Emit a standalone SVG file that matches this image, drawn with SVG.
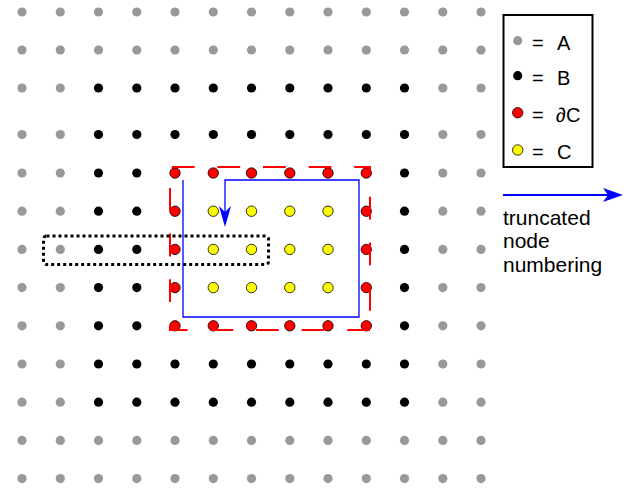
<svg xmlns="http://www.w3.org/2000/svg" width="638" height="490" viewBox="0 0 638 490">
  <style>
    .a { fill: #999999; }
    .b { fill: #000000; }
    .dc { fill: #ff0000; stroke: #000000; stroke-width: 0.8; }
    .c { fill: #ffff00; stroke: #000000; stroke-width: 0.8; }
    .lbl { font-family: "Liberation Sans", Arial, sans-serif; font-size: 20px; fill: #000000; }
    .key { font-size: 21px; }
  </style>
  <defs>
    <circle id="pa" r="4.6" class="a"/>
    <circle id="pb" r="4.6" class="b"/>
    <circle id="pdc" r="5.2" class="dc"/>
    <circle id="pc" r="5.2" class="c"/>
  </defs>

  <rect width="638" height="490" fill="#ffffff"/>

  <!-- lattice of nodes, one group per row -->
  <g id="nodes">
    <g id="row0" transform="translate(0,12)">
      <use id="n0-0" href="#pa" x="22"/><use id="n0-1" href="#pa" x="60.3"/><use id="n0-2" href="#pa" x="98.5"/><use id="n0-3" href="#pa" x="136.8"/><use id="n0-4" href="#pa" x="175"/><use id="n0-5" href="#pa" x="213.3"/><use id="n0-6" href="#pa" x="251.5"/><use id="n0-7" href="#pa" x="289.8"/><use id="n0-8" href="#pa" x="328"/><use id="n0-9" href="#pa" x="366.3"/><use id="n0-10" href="#pa" x="404.5"/><use id="n0-11" href="#pa" x="442.8"/><use id="n0-12" href="#pa" x="481"/>
    </g>
    <g id="row1" transform="translate(0,50)">
      <use id="n1-0" href="#pa" x="22"/><use id="n1-1" href="#pa" x="60.3"/><use id="n1-2" href="#pa" x="98.5"/><use id="n1-3" href="#pa" x="136.8"/><use id="n1-4" href="#pa" x="175"/><use id="n1-5" href="#pa" x="213.3"/><use id="n1-6" href="#pa" x="251.5"/><use id="n1-7" href="#pa" x="289.8"/><use id="n1-8" href="#pa" x="328"/><use id="n1-9" href="#pa" x="366.3"/><use id="n1-10" href="#pa" x="404.5"/><use id="n1-11" href="#pa" x="442.8"/><use id="n1-12" href="#pa" x="481"/>
    </g>
    <g id="row2" transform="translate(0,88)">
      <use id="n2-0" href="#pa" x="22"/><use id="n2-1" href="#pa" x="60.3"/><use id="n2-2" href="#pb" x="98.5"/><use id="n2-3" href="#pb" x="136.8"/><use id="n2-4" href="#pb" x="175"/><use id="n2-5" href="#pb" x="213.3"/><use id="n2-6" href="#pb" x="251.5"/><use id="n2-7" href="#pb" x="289.8"/><use id="n2-8" href="#pb" x="328"/><use id="n2-9" href="#pb" x="366.3"/><use id="n2-10" href="#pb" x="404.5"/><use id="n2-11" href="#pa" x="442.8"/><use id="n2-12" href="#pa" x="481"/>
    </g>
    <g id="row3" transform="translate(0,134.5)">
      <use id="n3-0" href="#pa" x="22"/><use id="n3-1" href="#pa" x="60.3"/><use id="n3-2" href="#pb" x="98.5"/><use id="n3-3" href="#pb" x="136.8"/><use id="n3-4" href="#pb" x="175"/><use id="n3-5" href="#pb" x="213.3"/><use id="n3-6" href="#pb" x="251.5"/><use id="n3-7" href="#pb" x="289.8"/><use id="n3-8" href="#pb" x="328"/><use id="n3-9" href="#pb" x="366.3"/><use id="n3-10" href="#pb" x="404.5"/><use id="n3-11" href="#pa" x="442.8"/><use id="n3-12" href="#pa" x="481"/>
    </g>
    <g id="row4" transform="translate(0,173)">
      <use id="n4-0" href="#pa" x="22"/><use id="n4-1" href="#pa" x="60.3"/><use id="n4-2" href="#pb" x="98.5"/><use id="n4-3" href="#pb" x="136.8"/><use id="n4-4" href="#pdc" x="175"/><use id="n4-5" href="#pdc" x="213.3"/><use id="n4-6" href="#pdc" x="251.5"/><use id="n4-7" href="#pdc" x="289.8"/><use id="n4-8" href="#pdc" x="328"/><use id="n4-9" href="#pdc" x="366.3"/><use id="n4-10" href="#pb" x="404.5"/><use id="n4-11" href="#pa" x="442.8"/><use id="n4-12" href="#pa" x="481"/>
    </g>
    <g id="row5" transform="translate(0,211.2)">
      <use id="n5-0" href="#pa" x="22"/><use id="n5-1" href="#pa" x="60.3"/><use id="n5-2" href="#pb" x="98.5"/><use id="n5-3" href="#pb" x="136.8"/><use id="n5-4" href="#pdc" x="175"/><use id="n5-5" href="#pc" x="213.3"/><use id="n5-6" href="#pc" x="251.5"/><use id="n5-7" href="#pc" x="289.8"/><use id="n5-8" href="#pc" x="328"/><use id="n5-9" href="#pdc" x="366.3"/><use id="n5-10" href="#pb" x="404.5"/><use id="n5-11" href="#pa" x="442.8"/><use id="n5-12" href="#pa" x="481"/>
    </g>
    <g id="row6" transform="translate(0,249.4)">
      <use id="n6-0" href="#pa" x="22"/><use id="n6-1" href="#pa" x="60.3"/><use id="n6-2" href="#pb" x="98.5"/><use id="n6-3" href="#pb" x="136.8"/><use id="n6-4" href="#pdc" x="175"/><use id="n6-5" href="#pc" x="213.3"/><use id="n6-6" href="#pc" x="251.5"/><use id="n6-7" href="#pc" x="289.8"/><use id="n6-8" href="#pc" x="328"/><use id="n6-9" href="#pdc" x="366.3"/><use id="n6-10" href="#pb" x="404.5"/><use id="n6-11" href="#pa" x="442.8"/><use id="n6-12" href="#pa" x="481"/>
    </g>
    <g id="row7" transform="translate(0,287.6)">
      <use id="n7-0" href="#pa" x="22"/><use id="n7-1" href="#pa" x="60.3"/><use id="n7-2" href="#pb" x="98.5"/><use id="n7-3" href="#pb" x="136.8"/><use id="n7-4" href="#pdc" x="175"/><use id="n7-5" href="#pc" x="213.3"/><use id="n7-6" href="#pc" x="251.5"/><use id="n7-7" href="#pc" x="289.8"/><use id="n7-8" href="#pc" x="328"/><use id="n7-9" href="#pdc" x="366.3"/><use id="n7-10" href="#pb" x="404.5"/><use id="n7-11" href="#pa" x="442.8"/><use id="n7-12" href="#pa" x="481"/>
    </g>
    <g id="row8" transform="translate(0,325.8)">
      <use id="n8-0" href="#pa" x="22"/><use id="n8-1" href="#pa" x="60.3"/><use id="n8-2" href="#pb" x="98.5"/><use id="n8-3" href="#pb" x="136.8"/><use id="n8-4" href="#pdc" x="175"/><use id="n8-5" href="#pdc" x="213.3"/><use id="n8-6" href="#pdc" x="251.5"/><use id="n8-7" href="#pdc" x="289.8"/><use id="n8-8" href="#pdc" x="328"/><use id="n8-9" href="#pdc" x="366.3"/><use id="n8-10" href="#pb" x="404.5"/><use id="n8-11" href="#pa" x="442.8"/><use id="n8-12" href="#pa" x="481"/>
    </g>
    <g id="row9" transform="translate(0,364)">
      <use id="n9-0" href="#pa" x="22"/><use id="n9-1" href="#pa" x="60.3"/><use id="n9-2" href="#pb" x="98.5"/><use id="n9-3" href="#pb" x="136.8"/><use id="n9-4" href="#pb" x="175"/><use id="n9-5" href="#pb" x="213.3"/><use id="n9-6" href="#pb" x="251.5"/><use id="n9-7" href="#pb" x="289.8"/><use id="n9-8" href="#pb" x="328"/><use id="n9-9" href="#pb" x="366.3"/><use id="n9-10" href="#pb" x="404.5"/><use id="n9-11" href="#pa" x="442.8"/><use id="n9-12" href="#pa" x="481"/>
    </g>
    <g id="row10" transform="translate(0,402.2)">
      <use id="n10-0" href="#pa" x="22"/><use id="n10-1" href="#pa" x="60.3"/><use id="n10-2" href="#pb" x="98.5"/><use id="n10-3" href="#pb" x="136.8"/><use id="n10-4" href="#pb" x="175"/><use id="n10-5" href="#pb" x="213.3"/><use id="n10-6" href="#pb" x="251.5"/><use id="n10-7" href="#pb" x="289.8"/><use id="n10-8" href="#pb" x="328"/><use id="n10-9" href="#pb" x="366.3"/><use id="n10-10" href="#pb" x="404.5"/><use id="n10-11" href="#pa" x="442.8"/><use id="n10-12" href="#pa" x="481"/>
    </g>
    <g id="row11" transform="translate(0,440.4)">
      <use id="n11-0" href="#pa" x="22"/><use id="n11-1" href="#pa" x="60.3"/><use id="n11-2" href="#pa" x="98.5"/><use id="n11-3" href="#pa" x="136.8"/><use id="n11-4" href="#pa" x="175"/><use id="n11-5" href="#pa" x="213.3"/><use id="n11-6" href="#pa" x="251.5"/><use id="n11-7" href="#pa" x="289.8"/><use id="n11-8" href="#pa" x="328"/><use id="n11-9" href="#pa" x="366.3"/><use id="n11-10" href="#pa" x="404.5"/><use id="n11-11" href="#pa" x="442.8"/><use id="n11-12" href="#pa" x="481"/>
    </g>
    <g id="row12" transform="translate(0,478.6)">
      <use id="n12-0" href="#pa" x="22"/><use id="n12-1" href="#pa" x="60.3"/><use id="n12-2" href="#pa" x="98.5"/><use id="n12-3" href="#pa" x="136.8"/><use id="n12-4" href="#pa" x="175"/><use id="n12-5" href="#pa" x="213.3"/><use id="n12-6" href="#pa" x="251.5"/><use id="n12-7" href="#pa" x="289.8"/><use id="n12-8" href="#pa" x="328"/><use id="n12-9" href="#pa" x="366.3"/><use id="n12-10" href="#pa" x="404.5"/><use id="n12-11" href="#pa" x="442.8"/><use id="n12-12" href="#pa" x="481"/>
    </g>
  </g>

  <!-- outlines and the traversal path -->
  <g id="connectors">
    <!-- boundary of region C -->
    <path id="boundary" d="M370,330 H170 V167 H370 V330" fill="none" stroke="#ff0000" stroke-width="2" stroke-dasharray="22.8 22.8"/>
    <!-- highlighted single row -->
    <rect id="row-window" x="43.5" y="236" width="225" height="28.5" rx="3" fill="none" stroke="#000000" stroke-width="3" stroke-dasharray="3 3"/>
    <!-- node numbering path -->
    <path id="numbering-path" d="M183,180 V317 H359 V180 H225 V213" fill="none" stroke="#0000ff" stroke-width="1.3"/>
    <polygon points="225,227 219,206 225,212 231,206" fill="#0000ff"/>
  </g>

  <!-- legend -->
  <g id="legend">
    <rect x="503.5" y="15" width="89" height="152" fill="#ffffff" stroke="#000000" stroke-width="2"/>
    <circle cx="517.7" cy="40.7" r="4.6" class="a"/>
    <circle cx="517.7" cy="75.7" r="4.6" class="b"/>
    <circle cx="517.7" cy="112.7" r="5.2" class="dc"/>
    <circle cx="517.7" cy="150" r="5.2" class="c"/>
    <text class="lbl" x="532" y="50">=</text><text class="lbl" x="557" y="50">A</text>
    <text class="lbl" x="532" y="85">=</text><text class="lbl" x="557" y="85">B</text>
    <text class="lbl" x="532" y="122">=</text><text class="lbl" x="556" y="122">∂C</text>
    <text class="lbl" x="532" y="159">=</text><text class="lbl" x="557" y="159">C</text>
  </g>

  <g id="numbering-key">
    <line x1="503" y1="195" x2="610" y2="195" stroke="#0000ff" stroke-width="2"/>
    <polygon points="623,195 603,188 608,195 603,202" fill="#0000ff"/>
    <text class="lbl key" x="503" y="225">truncated</text>
    <text class="lbl key" x="503" y="248">node</text>
    <text class="lbl key" x="503" y="272">numbering</text>
  </g>
</svg>
